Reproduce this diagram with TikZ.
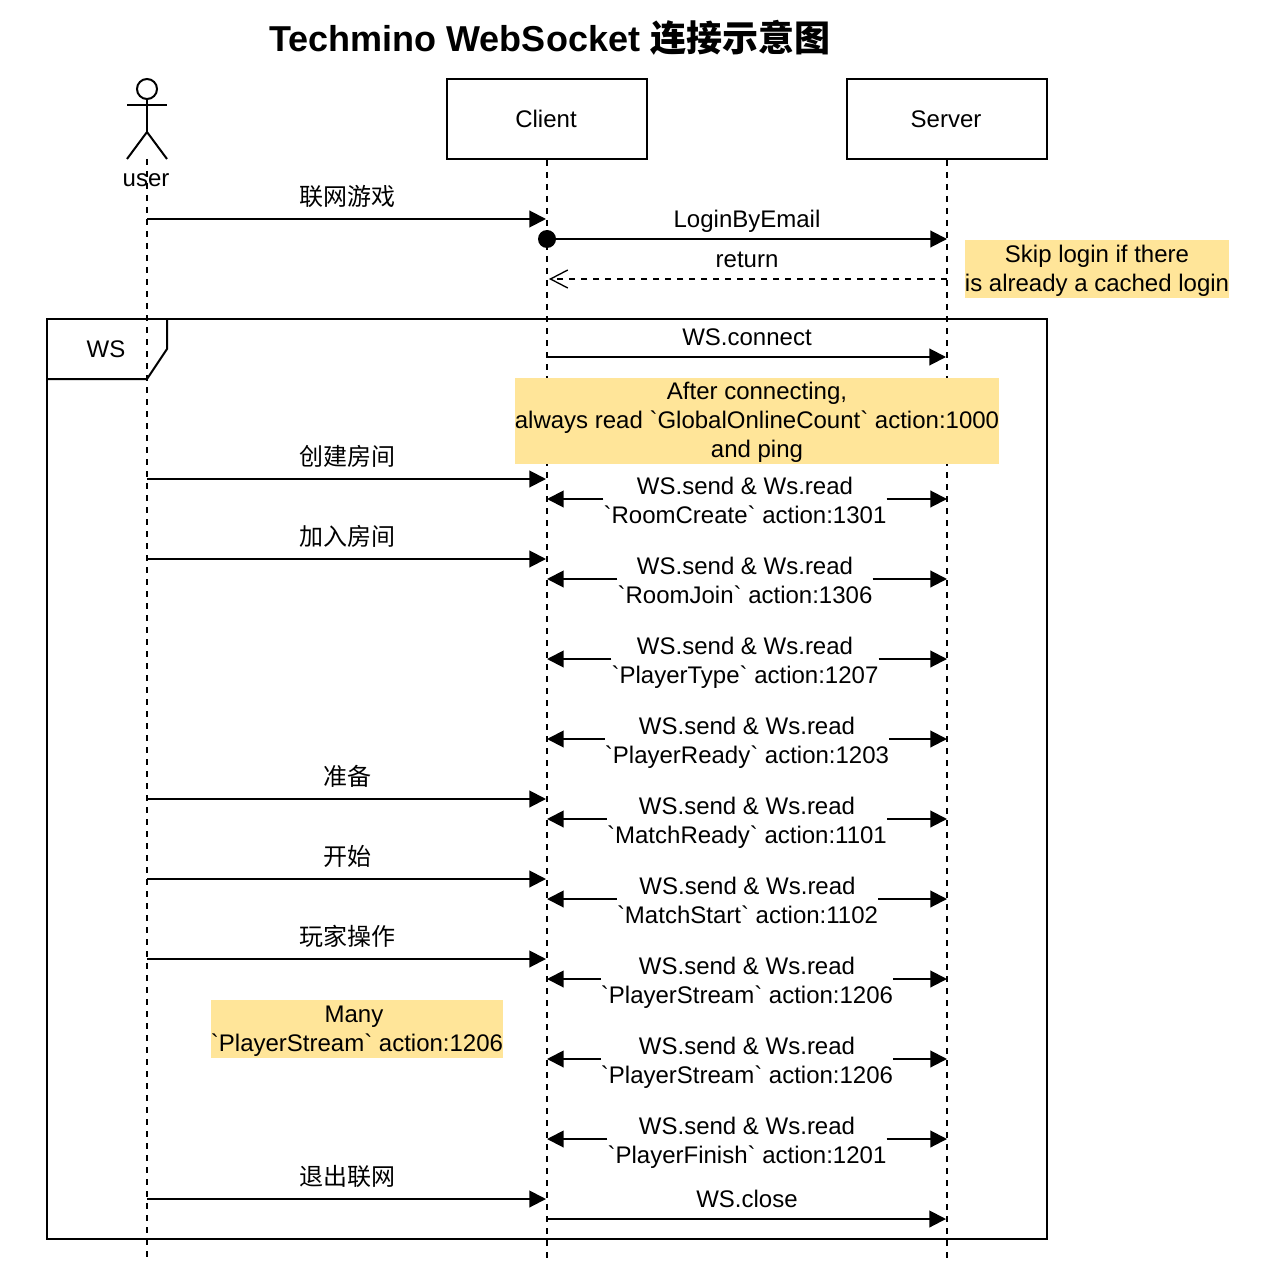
\documentclass[tikz,border=0pt]{standalone}
\usepackage{fontspec}
\usetikzlibrary{arrows.meta}
\newfontfamily\latinf{Liberation Sans}
\newfontfamily\cjkf{Noto Sans CJK SC}
\definecolor{notecol}{HTML}{FFE599}
\tikzset{
  ln/.style={line width=1.5pt,draw=black},
  lifeline/.style={ln,dash pattern=on 4.5pt off 4.5pt},
  msg/.style={ln,-{Triangle[length=12.5pt,width=12.5pt]}},
  ret/.style={ln,dash pattern=on 4.5pt off 4.5pt,-{Straight Barb[length=13pt,width=13.5pt,line width=1pt]}},
  txt/.style={font=\latinf\fontsize{18}{21.6}\selectfont,text=black,inner sep=0pt},
  lab/.style={txt,anchor=base},
  cjklab/.style={anchor=base,inner sep=0pt,font=\cjkf\fontsize{18}{21.6}\selectfont},
  head/.style={ln,fill=white,minimum width=150pt,minimum height=60pt,inner sep=0pt,font=\latinf\fontsize{18}{21.6}\selectfont},
  note/.style={fill=notecol,inner sep=0pt,align=center,font=\latinf\fontsize{18}{21.6}\selectfont},
  rowlab/.style={txt,fill=white,align=center},
}
\newcommand{\wsrow}[4]{%
  \coordinate (#1c) at (547,#2);
  \coordinate (#1s) at (947,#2);
  \node[rowlab] (#1t) at (#3,#2+3) {\rule{0pt}{15pt}WS.send \& Ws.read\\#4\rule[-5pt]{0pt}{5pt}};
  \draw[msg] (#1t.west |- #1c) -- (#1c);
  \draw[msg] (#1t.east |- #1s) -- (#1s);
}
\newcommand{\umsg}[3]{%
  \coordinate (#1a) at (147,#2);
  \coordinate (#1b) at (546,#2);
  \draw[msg] (#1a) -- (#1b);
  \node[cjklab] (#1t) at (347,#2-13.5) {#3};
}
\begin{document}
\begin{tikzpicture}[x=0.75pt,y=-0.75pt]
\useasboundingbox (0,0) rectangle (1262,1262);
\fill[white] (0,0) rectangle (1262,1262);

\node[inner sep=0pt,anchor=base west,font=\fontsize{27}{32}\selectfont\bfseries] (title) at (269,52)
  {\latinf\bfseries Techmino WebSocket \cjkf\bfseries 连接示意图};

% frame
\coordinate (frA) at (47,319);
\coordinate (frB) at (1047,1239);
\draw[ln] (frA) rectangle (frB);
\coordinate (tabA) at (47,379);
\coordinate (tabB) at (147,379);
\coordinate (tabC) at (167,349);
\coordinate (tabD) at (167,319);
\draw[ln,line join=miter] (tabA) -- (tabB) -- (tabC) -- (tabD);
\node[txt] (ws) at (106,349) {WS};

% heads
\node[head] (client) at (547,119) {Client\kern1.5pt};
\node[head] (server) at (947,119) {Server\kern1.5pt};

% actor
\draw[ln] (147,89) circle (10);
\draw[ln] (147,99) -- (147,132);
\draw[ln] (127,105) -- (167,105);
\draw[ln] (127,159) -- (147,132) -- (167,159);
\node[txt] (user) at (146,180) {user};

% lifelines
\coordinate (uTop) at (147,159);
\coordinate (uEnd) at (147,1258);
\coordinate (cEnd) at (547,1258);
\coordinate (sEnd) at (947,1258);
\draw[lifeline] (uTop) -- (uEnd);
\draw[lifeline] (client.south) -- (cEnd);
\draw[lifeline] (server.south) -- (sEnd);

% user -> client messages
\umsg{m1}{219}{联网游戏}
\umsg{m2}{479}{创建房间}
\umsg{m3}{559}{加入房间}
\umsg{m4}{799}{准备}
\umsg{m5}{879}{开始}
\umsg{m6}{959}{玩家操作}
\umsg{m7}{1199}{退出联网}

% login
\node[circle,fill=black,inner sep=0pt,minimum size=13.5pt] (dot) at (547,239) {};
\coordinate (loginS) at (947,239);
\draw[msg] (dot) -- (loginS);
\node[lab] (loginT) at (747,228) {LoginByEmail};
\coordinate (retS) at (947,279);
\coordinate (retC) at (549,279);
\draw[ret] (retS) -- (retC);
\node[lab] (retT) at (747,268) {return};

% ws connect
\coordinate (connC) at (547,357);
\coordinate (connS) at (946,357);
\draw[msg] (connC) -- (connS);
\node[lab] (connT) at (747,345) {WS.connect};

% notes
\node[note,minimum width=198pt,minimum height=43.5pt] (note1) at (1097,269)
  {\rule{0pt}{16pt}Skip login if there\\is already a cached login};
\node[note,minimum width=363pt,minimum height=64.5pt] (note2) at (757,421)
  {\rule{0pt}{15.4pt}After connecting,\\always read `GlobalOnlineCount` action:1000\\and ping};
\node[note,minimum width=219pt,minimum height=43.5pt] (note3) at (357,1029)
  {\rule{0pt}{16pt}Many\kern4.5pt\\`PlayerStream` action:1206};

% ws rows
\wsrow{r1}{499}{745}{`RoomCreate` action:1301}
\wsrow{r2}{579}{745}{`RoomJoin` action:1306}
\wsrow{r3}{659}{745}{`PlayerType` action:1207}
\wsrow{r4}{739}{747}{`PlayerReady` action:1203}
\wsrow{r5}{819}{747}{`MatchReady` action:1101}
\wsrow{r6}{899}{747.5}{`MatchStart` action:1102}
\wsrow{r7}{979}{747}{`PlayerStream` action:1206}
\wsrow{r8}{1059}{747}{`PlayerStream` action:1206}
\wsrow{r9}{1139}{747}{`PlayerFinish` action:1201}

% close
\coordinate (closeC) at (547,1219);
\coordinate (closeS) at (946,1219);
\draw[msg] (closeC) -- (closeS);
\node[lab] (closeT) at (747,1207) {WS.close};
\end{tikzpicture}
\end{document}
